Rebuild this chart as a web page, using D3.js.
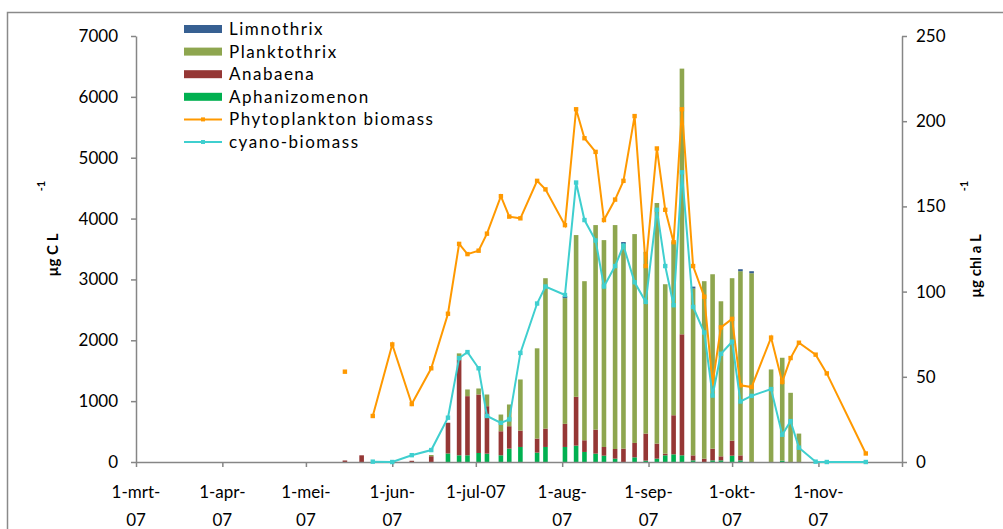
<!DOCTYPE html>
<meta charset="utf-8">
<script src="https://d3js.org/d3.v7.min.js"></script>
<style>
  body { margin: 0; background: #fff; }
  text { font-family: Lato, "Noto Sans", sans-serif; fill: #000; }
</style>
<body>
<div id="my_dataviz"></div>
<script>

// sampling dates (2007)
var dates = ["2007-05-15","2007-05-21","2007-05-25","2007-06-01","2007-06-08","2007-06-15","2007-06-21",
  "2007-06-25","2007-06-28","2007-07-02","2007-07-05","2007-07-10","2007-07-13","2007-07-17","2007-07-23",
  "2007-07-26","2007-08-02","2007-08-06","2007-08-09","2007-08-13","2007-08-16","2007-08-20","2007-08-23",
  "2007-08-27","2007-08-31","2007-09-04","2007-09-07","2007-09-10","2007-09-13","2007-09-17","2007-09-21",
  "2007-09-24","2007-09-27","2007-10-01","2007-10-04","2007-10-08","2007-10-15","2007-10-19","2007-10-22",
  "2007-10-25","2007-10-31","2007-11-04","2007-11-18"]

// cyanobacteria biomass, ug C/L (stacked bars, left axis)
var aphanizomenon = [0,0,null,null,0,0,140,110,110,148,137,110,220,247,154,247,247,269,165,137,104,55,0,77,22,55,110,126,110,27,0,27,27,104,27,0,0,22,0,0,null,null,null]
var anabaena      = [25,110,null,null,20,95,505,1565,972,961,780,395,368,269,231,302,380,802,192,395,143,159,220,236,445,247,27,642,1988,82,55,192,66,247,82,0,0,0,0,0,null,null,null]
var planktothrix  = [0,0,null,null,0,20,0,110,110,99,192,275,357,840,1483,2471,2065,2658,2614,3361,3399,3679,3361,3432,2987,3954,2784,2855,4366,2740,2916,2866,2548,2669,3026,3102,1521,1691,1137,467,null,null,null]
var limnothrix    = [0,0,null,null,0,0,0,0,0,0,0,0,0,0,0,0,33,0,0,0,0,0,33,0,0,0,0,0,0,33,0,0,0,0,33,33,0,0,0,0,null,null,null]

// chl a, ug/L (lines, right axis)
var phytoBiomass = [53,null,27,69,34,55,87,128,122,124,134,156,144,143,165,160,139,207,190,182,142,154,165,203,115,184,148,129,207,115,97,46,79,84,45,44,73,47,61,70,63,52,5]
var cyanoBiomass = [null,null,0.2,0,4,7,26,61,64.5,55,27,23,25,64,93,103,98,164,142,130,103,115,127,105.5,94,148,115,92,170,91,76,39,63.5,70.6,35.5,38.8,42.8,16,24,8.4,0.2,0,0]

var tickDates  = ["2007-03-01","2007-04-01","2007-05-01","2007-06-01","2007-07-01","2007-08-01","2007-09-01","2007-10-01","2007-11-01","2007-12-01"]
var tickLabels = ["1-mrt-\n07","1-apr-\n07","1-mei-\n07","1-jun-\n07","1-jul-07","1-aug-\n07","1-sep-\n07","1-okt-\n07","1-nov-\n07",""]
var leftTicks  = [0,1000,2000,3000,4000,5000,6000,7000]
var rightTicks = [0,50,100,150,200,250]

var seriesNames = ["Aphanizomenon","Anabaena","Planktothrix","Limnothrix"]
var seriesColors = ["#00b050","#953735","#8ea64f","#376092"]

var W = 1003, H = 529
var parse = d3.timeParse("%Y-%m-%d")

var svg = d3.select("#my_dataviz").append("svg")
  .attr("width", W).attr("height", H)

// outer chart frame
svg.append("rect")
  .attr("x", 7.5).attr("y", 12.5).attr("width", 1200).attr("height", 700)
  .attr("fill", "none").attr("stroke", "#8a8a8a").attr("stroke-width", 1.5)

var x = d3.scaleTime()
  .domain([parse("2007-03-01"), parse("2007-12-01")])
  .range([136, 902])
var yL = d3.scaleLinear().domain([0, 7000]).range([462, 36])
var yR = d3.scaleLinear().domain([0, 250]).range([462, 36])

// build table for stacking
var table = dates.map(function(d, i) {
  return {date: parse(d), Aphanizomenon: aphanizomenon[i] || 0, Anabaena: anabaena[i] || 0,
          Planktothrix: planktothrix[i] || 0, Limnothrix: limnothrix[i] || 0}
})
var stacked = d3.stack().keys(seriesNames)(table)

var bw = 4.6
svg.append("g").selectAll("g")
  .data(stacked)
  .enter().append("g")
    .attr("fill", function(d, i) { return seriesColors[i] })
  .selectAll("rect")
  .data(function(d) { return d.filter(function(p) { return p[1] - p[0] > 0 }) })
  .enter().append("rect")
    .attr("x", function(d) { return x(d.data.date) - bw / 2 })
    .attr("y", function(d) { return yL(d[1]) })
    .attr("width", bw)
    .attr("height", function(d) { return yL(d[0]) - yL(d[1]) })

// axes
var axisCol = "#868686"
var gL = svg.append("g").attr("transform", "translate(136,0)")
  .call(d3.axisLeft(yL).tickValues(leftTicks).tickFormat(d3.format("d")).tickSize(5).tickPadding(13).tickSizeOuter(0))
var gR = svg.append("g").attr("transform", "translate(902,0)")
  .call(d3.axisRight(yR).tickValues(rightTicks).tickFormat(d3.format("d")).tickSize(5).tickPadding(9).tickSizeOuter(0))
var gX = svg.append("g").attr("transform", "translate(0,462)")
  .call(d3.axisBottom(x).tickValues(tickDates.map(parse)).tickSize(5).tickFormat("").tickSizeOuter(0))

;[gL, gR, gX].forEach(function(g) {
  g.select(".domain").attr("stroke", axisCol).attr("stroke-width", 1.5)
  g.selectAll(".tick line").attr("stroke", axisCol).attr("stroke-width", 1.5)
  g.selectAll(".tick text").attr("font-size", 17).attr("font-family", "Lato").attr("fill", "#000")
})

// two-line date labels
var xl = svg.append("g")
tickDates.forEach(function(d, i) {
  var lines = tickLabels[i].split("\n")
  var t = xl.append("text")
    .attr("x", x(parse(d))).attr("y", 498)
    .attr("text-anchor", "middle").attr("font-size", 17)
  lines.forEach(function(s, j) {
    t.append("tspan").attr("x", x(parse(d))).attr("dy", j === 0 ? 0 : 28).text(s)
  })
})

// lines
function drawLine(vals, col) {
  var pts = dates.map(function(d, i) { return {date: parse(d), v: vals[i]} })
  svg.append("path")
    .datum(pts)
    .attr("fill", "none").attr("stroke", col).attr("stroke-width", 2)
    .attr("d", d3.line()
      .defined(function(d) { return d.v != null })
      .x(function(d) { return x(d.date) })
      .y(function(d) { return yR(d.v) }))
  svg.append("g").selectAll("rect")
    .data(pts.filter(function(d) { return d.v != null }))
    .enter().append("rect")
      .attr("x", function(d) { return x(d.date) - 2.2 })
      .attr("y", function(d) { return yR(d.v) - 2.2 })
      .attr("width", 4.4).attr("height", 4.4)
      .attr("fill", col)
}
drawLine(phytoBiomass, "#ff9900")
drawLine(cyanoBiomass, "#3fcfcf")

// axis titles
svg.append("text")
  .attr("transform", "translate(58,255) rotate(-90)")
  .attr("text-anchor", "middle").attr("font-size", 15).attr("font-weight", "bold")
  .text("µg C L")
svg.append("text")
  .attr("transform", "translate(45,186) rotate(-90)")
  .attr("text-anchor", "middle").attr("font-size", 11).attr("font-weight", "bold")
  .text("-1")
svg.append("text")
  .attr("transform", "translate(981,266) rotate(-90)")
  .attr("text-anchor", "middle").attr("font-size", 15).attr("font-weight", "bold")
  .text("µg chl a L")
svg.append("text")
  .attr("transform", "translate(968,186) rotate(-90)")
  .attr("text-anchor", "middle").attr("font-size", 11).attr("font-weight", "bold")
  .text("-1")

// legend
var legendItems = [
  {name: "Limnothrix", col: "#376092", type: "box"},
  {name: "Planktothrix", col: "#8ea64f", type: "box"},
  {name: "Anabaena", col: "#953735", type: "box"},
  {name: "Aphanizomenon", col: "#00b050", type: "box"},
  {name: "Phytoplankton biomass", col: "#ff9900", type: "line"},
  {name: "cyano-biomass", col: "#3fcfcf", type: "line"}
]
var lg = svg.append("g")
legendItems.forEach(function(d, i) {
  var cy = 29 + i * 22.6
  if (d.type === "box") {
    lg.append("rect").attr("x", 184).attr("y", cy - 4).attr("width", 38).attr("height", 8).attr("fill", d.col)
  } else {
    lg.append("line").attr("x1", 184).attr("x2", 222).attr("y1", cy).attr("y2", cy)
      .attr("stroke", d.col).attr("stroke-width", 2)
    lg.append("rect").attr("x", 201).attr("y", cy - 2).attr("width", 4).attr("height", 4).attr("fill", d.col)
  }
  lg.append("text").attr("x", 229).attr("y", cy + 6)
    .attr("font-size", 17).attr("letter-spacing", 1.5).text(d.name)
})

</script>
</body>
